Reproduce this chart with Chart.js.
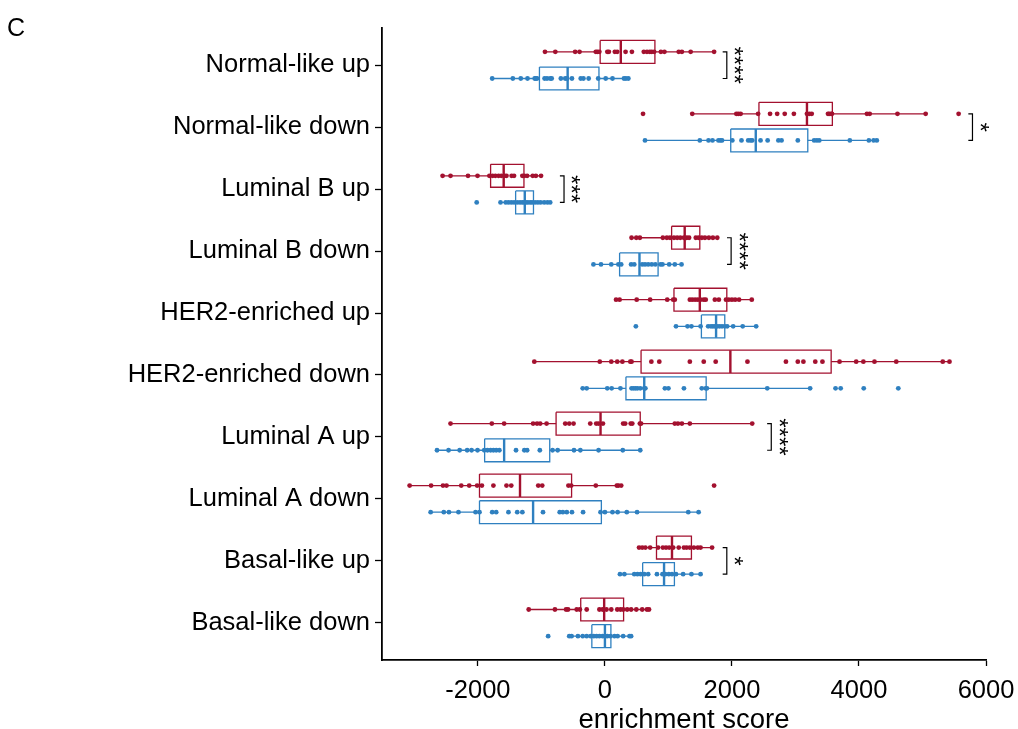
<!DOCTYPE html>
<html>
<head>
<meta charset="utf-8">
<script src="https://cdn.jsdelivr.net/npm/chart.js@4.4.1/dist/chart.umd.min.js"></script>
<style>
  html, body { margin: 0; padding: 0; background: #fff; }
  #chart { display: block; }
</style>
</head>
<body>
<canvas id="chart" width="1018" height="729"></canvas>
<script>
const categories = ['Normal-like up', 'Normal-like down', 'Luminal B up', 'Luminal B down', 'HER2-enriched up',
    'HER2-enriched down', 'Luminal A up', 'Luminal A down', 'Basal-like up', 'Basal-like down'];
const xTicks = [-2000, 0, 2000, 4000, 6000];

// red group, one list of scores per category
const redPoints = [
    [-944, -781, -469, -400, -144, -119, -88, 38, 62, 156, 194, 325, 425, 612, 662, 706, 737, 775, 881, 937, 1162, 1212, 1350, 1719],
    [600, 1375, 2069, 2100, 2137, 2412, 2600, 2712, 2831, 2975, 3181, 3219, 3256, 3512, 3531, 3562, 3575, 4125, 4169, 4606, 5050, 5569],
    [-2556, -2431, -2156, -2006, -1819, -1769, -1725, -1675, -1631, -1581, -1550, -1469, -1431, -1300, -1269, -1225, -1137, -1087, -1006],
    [419, 494, 550, 912, 975, 1025, 1087, 1137, 1187, 1244, 1287, 1325, 1431, 1475, 1525, 1575, 1637, 1700, 1769],
    [175, 231, 500, 712, 981, 1075, 1100, 1337, 1375, 1419, 1462, 1506, 1556, 1587, 1731, 1794, 1906, 1950, 2000, 2050, 2112, 2312],
    [-1112, -81, 100, 194, 275, 400, 419, 731, 856, 1337, 1556, 1744, 2244, 2850, 3037, 3125, 3312, 3425, 3694, 3956, 4069, 4244, 4587, 5319, 5425],
    [-2431, -1781, -1587, -1131, -1069, -1019, -919, -625, -562, -494, -231, -137, -100, -31, 287, 319, 406, 431, 550, 569, 1100, 1150, 1212, 1337, 2319],
    [-3075, -2737, -2550, -2494, -2262, -2137, -2012, -1937, -1756, -1550, -1475, -1050, -987, -575, -531, -144, 187, 212, 256, 1719],
    [537, 587, 637, 712, 837, 912, 962, 1012, 1075, 1162, 1244, 1287, 1337, 1400, 1462, 1506, 1687],
    [-1200, -787, -612, -581, -444, -394, -287, -87, -37, 25, 100, 194, 244, 287, 350, 412, 494, 587, 662, 694]
];
// blue group
const bluePoints = [
    [-1775, -1450, -1325, -1219, -1106, -1088, -1069, -950, -912, -862, -838, -694, -625, -594, -519, -381, -338, -256, -106, 12, 119, 300, 331, 369],
    [631, 1494, 1631, 1694, 1787, 1819, 1844, 2006, 2150, 2256, 2294, 2319, 2450, 2562, 2731, 2781, 3037, 3294, 3337, 3375, 3856, 4156, 4231, 4281],
    [-2019, -1644, -1562, -1519, -1475, -1431, -1381, -1337, -1300, -1269, -1244, -1212, -1175, -1144, -1100, -1056, -1012, -956, -906, -862],
    [-181, -62, 100, 212, 256, 412, 462, 587, 631, 681, 737, 794, 875, 906, 1012, 1100, 1206],
    [487, 1119, 1300, 1362, 1506, 1625, 1669, 1700, 1731, 1769, 1806, 1844, 1887, 1925, 2019, 2169, 2381],
    [-350, -287, 37, 106, 244, 419, 450, 481, 512, 556, 619, 637, 944, 1000, 1244, 1525, 1587, 1606, 2556, 3231, 3631, 3712, 4075, 4619],
    [-2644, -2462, -2287, -2169, -2100, -2006, -1900, -1850, -1800, -1756, -1712, -1662, -1400, -1269, -1225, -1025, -825, -744, -487, -387, -100, 281, 556],
    [-2744, -2537, -2456, -2306, -2037, -1975, -1775, -1712, -1519, -1381, -1300, -975, -712, -662, -600, -519, -344, -69, 0, 119, 200, 344, 506, 1312, 1475],
    [237, 306, 462, 512, 562, 619, 681, 819, 906, 950, 1006, 1056, 1119, 1231, 1362, 1506],
    [-894, -562, -525, -425, -350, -287, -225, -175, -131, -87, -37, 0, 37, 87, 150, 200, 287, 387, 412]
];

// box stats
const redLow    = [-944, 1375, -2556, 419, 175, -1112, -2431, -3075, 537, -1200];
const redQ1     = [-75, 2425, -1800, 1050, 1087, 569, -769, -1975, 812, -381];
const redMedian = [250, 3181, -1594, 1256, 1494, 1975, -69, -1337, 1056, -12];
const redQ3     = [787, 3581, -1275, 1494, 1919, 3562, 556, -525, 1362, 294];
const redHigh   = [1719, 5050, -1006, 1769, 2312, 5425, 2319, 256, 1687, 694];

const blueLow    = [-1775, 631, -1644, -181, 1119, -350, -2644, -2744, 237, -562];
const blueQ1     = [-1031, 1981, -1406, 231, 1519, 331, -1894, -1975, 594, -206];
const blueMedian = [-587, 2375, -1262, 544, 1750, 619, -1587, -1131, 931, 0];
const blueQ3     = [-94, 3194, -1125, 837, 1887, 1594, -869, -56, 1094, 94];
const blueHigh   = [369, 4281, -862, 1206, 2381, 3231, 556, 1475, 1506, 412];

const sigRows = [0, 1, 2, 3, 6, 8];
const sigX = [1919, 5787, -644, 1987, 2619, 1919];
const sigLabels = ['****', '*', '***', '****', '****', '*'];

const RED = '#a3112f';
const BLUE = '#2f80c0';
const DODGE = 0.215;
const HALF = 0.185;
const FONT = '"Liberation Sans", Arial, Helvetica, sans-serif';

function boxDatasets(color, low, q1, med, q3, high, points, side) {
    const sets = [];
    categories.forEach((_, i) => {
        const y = i + side * DODGE;
        sets.push({
            data: [{x: q1[i], y: y - HALF}, {x: q3[i], y: y - HALF}, {x: q3[i], y: y + HALF},
                   {x: q1[i], y: y + HALF}, {x: q1[i], y: y - HALF}],
            showLine: true, borderColor: color, borderWidth: 1.3, pointRadius: 0, order: 2
        });
        sets.push({
            data: [{x: low[i], y: y}, {x: q1[i], y: y}, {x: q3[i], y: null}, {x: q3[i], y: y}, {x: high[i], y: y}],
            showLine: true, spanGaps: false, borderColor: color, borderWidth: 1.3, pointRadius: 0, order: 2
        });
        sets.push({
            data: [{x: med[i], y: y - HALF}, {x: med[i], y: y + HALF}],
            showLine: true, borderColor: color, borderWidth: 2.4, pointRadius: 0, order: 2
        });
        sets.push({
            data: points[i].map(v => ({x: v, y: y})),
            showLine: false, pointRadius: 2.4, pointBorderWidth: 0,
            pointBackgroundColor: color, backgroundColor: color, order: 0
        });
    });
    return sets;
}

function bracketDatasets() {
    return sigRows.map((r, i) => ({
        data: [{x: sigX[i] - 65, y: r - DODGE}, {x: sigX[i], y: r - DODGE},
               {x: sigX[i], y: r + DODGE}, {x: sigX[i] - 65, y: r + DODGE}],
        showLine: true, borderColor: '#000', borderWidth: 1.2, pointRadius: 0, order: 1
    }));
}

const extraText = {
    id: 'extraText',
    afterDatasetsDraw(chart) {
        const {ctx, scales: {x, y}} = chart;
        ctx.save();
        ctx.fillStyle = '#000';
        ctx.font = '24px ' + FONT;
        ctx.textAlign = 'center';
        ctx.textBaseline = 'middle';
        sigRows.forEach((r, i) => {
            ctx.save();
            ctx.translate(x.getPixelForValue(sigX[i]) + 6, y.getPixelForValue(r));
            ctx.rotate(Math.PI / 2);
            ctx.fillText(sigLabels[i], 0, 0);
            ctx.restore();
        });
        ctx.font = '25px ' + FONT;
        ctx.textAlign = 'left';
        ctx.textBaseline = 'alphabetic';
        ctx.fillText('C', 7, 36);
        ctx.restore();
    }
};

new Chart(document.getElementById('chart'), {
    type: 'scatter',
    data: {
        datasets: [
            ...boxDatasets(RED, redLow, redQ1, redMedian, redQ3, redHigh, redPoints, -1),
            ...boxDatasets(BLUE, blueLow, blueQ1, blueMedian, blueQ3, blueHigh, bluePoints, 1),
            ...bracketDatasets()
        ]
    },
    options: {
        responsive: false,
        animation: false,
        devicePixelRatio: 1,
        layout: { padding: { left: 0, right: 32, top: 28, bottom: 0 } },
        plugins: { legend: { display: false }, tooltip: { enabled: false } },
        scales: {
            x: {
                type: 'linear',
                min: -3510,
                max: 6000,
                afterBuildTicks: (scale) => { scale.ticks = xTicks.map(v => ({value: v})); },
                afterFit: (scale) => { scale.height = 69; scale.paddingLeft = 0; scale.paddingRight = 0; },
                grid: { drawOnChartArea: false, tickLength: 6, color: '#000', tickWidth: 1.3 },
                border: { color: '#000', width: 1.8 },
                ticks: { color: '#000', padding: 10, font: { family: FONT, size: 25.5 },
                         maxRotation: 0, autoSkip: false, callback: (v) => String(v) },
                title: { display: true, text: 'enrichment score', color: '#000',
                         font: { family: FONT, size: 27.5, lineHeight: 0.8 }, padding: { top: 0, bottom: -2 } }
            },
            y: {
                type: 'linear',
                min: -0.6,
                max: 9.6,
                reverse: true,
                afterBuildTicks: (scale) => { scale.ticks = categories.map((_, i) => ({value: i})); },
                afterFit: (scale) => { scale.width = 382; },
                grid: { drawOnChartArea: false, tickLength: 7, color: '#000', tickWidth: 1.3 },
                border: { color: '#000', width: 1.8 },
                ticks: { color: '#000', padding: 5, font: { family: FONT, size: 25.5 },
                         autoSkip: false, callback: (v) => categories[v] }
            }
        }
    },
    plugins: [extraText]
});
</script>
</body>
</html>
